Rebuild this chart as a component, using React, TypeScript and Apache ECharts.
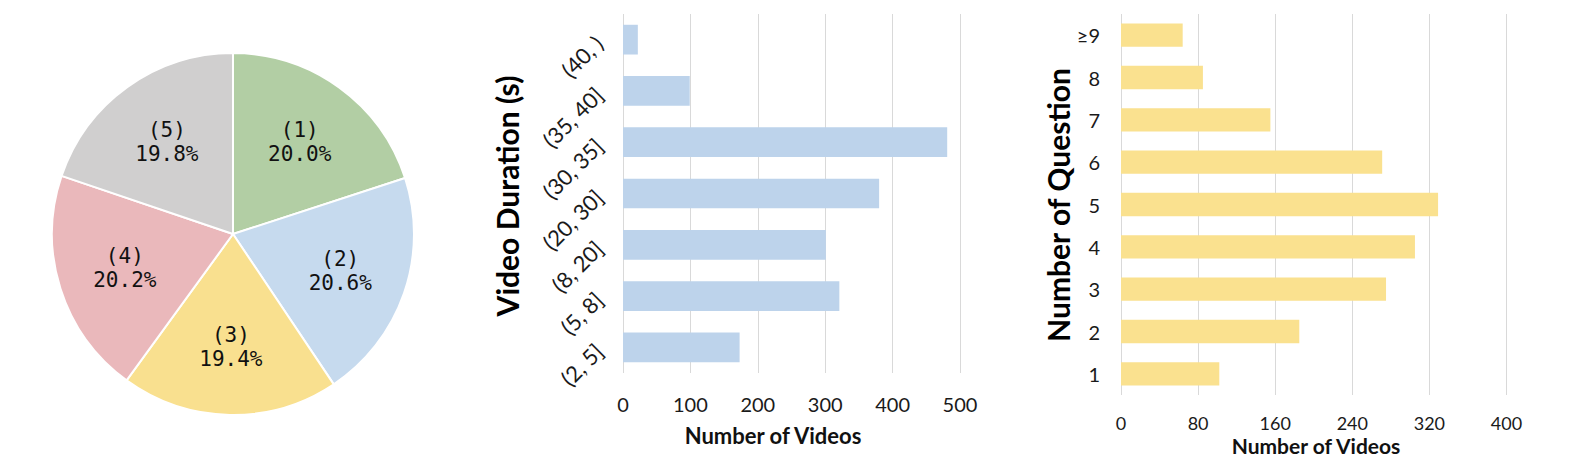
import React, { useEffect, useRef } from "react";
import * as echarts from "echarts";

const pieLabels = ["(1)", "(2)", "(3)", "(4)", "(5)"];
const pieValues = [20.0, 20.6, 19.4, 20.2, 19.8];
const pieColors = ["#b2cea4", "#c6daee", "#f9e08f", "#eab8bb", "#d0cfcf"];

const durationCats = ["(2, 5]", "(5, 8]", "(8, 20]", "(20, 30]", "(30, 35]", "(35, 40]", "(40, )"];
const durationVals = [173, 321, 301, 380, 481, 99, 22];
const durationTicks = [0, 100, 200, 300, 400, 500];

const questionCats = ["1", "2", "3", "4", "5", "6", "7", "8", "≥9"];
const questionVals = [102, 185, 275, 305, 329, 271, 155, 85, 64];
const questionTicks = [0, 80, 160, 240, 320, 400];

const FONT = "Lato";

export default function App() {
  const ref = useRef<HTMLDivElement>(null);
  useEffect(() => {
    document.body.style.margin = "0";
    const chart = echarts.init(ref.current!, undefined, { renderer: "svg" });
    const pieData = pieValues.map((v, i) => ({
      name: pieLabels[i],
      value: v,
      itemStyle: { color: pieColors[i] },
    }));
    chart.setOption({
      animation: false,
      backgroundColor: "#ffffff",
      grid: [
        { left: 623, top: 14, width: 337, height: 359 },
        { left: 1121, top: 14, width: 385.5, height: 381 },
      ],
      xAxis: [
        {
          gridIndex: 0,
          type: "value",
          min: durationTicks[0],
          max: durationTicks[durationTicks.length - 1],
          interval: 100,
          axisLine: { show: false },
          axisTick: { show: false },
          splitLine: { show: true, lineStyle: { color: "#d9d9d9", width: 1 } },
          axisLabel: { fontFamily: FONT, fontSize: 20, color: "#1a1a1a", margin: 21 },
        },
        {
          gridIndex: 1,
          type: "value",
          min: questionTicks[0],
          max: questionTicks[questionTicks.length - 1],
          interval: 80,
          axisLine: { show: false },
          axisTick: { show: false },
          splitLine: { show: true, lineStyle: { color: "#d9d9d9", width: 1 } },
          axisLabel: { fontFamily: FONT, fontSize: 18, color: "#1a1a1a", margin: 19 },
        },
      ],
      yAxis: [
        {
          gridIndex: 0,
          type: "category",
          data: durationCats,
          axisLine: { show: false },
          axisTick: { show: false },
          axisLabel: { fontFamily: FONT, fontSize: 22, color: "#1a1a1a", rotate: 45, margin: 24 },
        },
        {
          gridIndex: 1,
          type: "category",
          data: questionCats,
          axisLine: { show: false },
          axisTick: { show: false },
          axisLabel: { fontFamily: FONT, fontSize: 20, color: "#1a1a1a", margin: 21 },
        },
      ],
      series: [
        {
          type: "pie",
          center: [233, 234],
          radius: [0, 181],
          startAngle: 90,
          clockwise: true,
          itemStyle: { borderColor: "#ffffff", borderWidth: 2 },
          label: { show: false },
          labelLine: { show: false },
          emphasis: { disabled: true },
          data: pieData,
        },
        {
          type: "pie",
          center: [233, 234],
          radius: [40, 181],
          startAngle: 90,
          clockwise: true,
          silent: true,
          itemStyle: { color: "rgba(0,0,0,0)", borderWidth: 0 },
          label: {
            show: true,
            position: "inside",
            fontFamily: "DejaVu Sans Mono",
            fontSize: 21,
            lineHeight: 24,
            color: "#111111",
            formatter: (p: any) => `${p.name}\n${p.value.toFixed(1)}%`,
          },
          labelLine: { show: false },
          emphasis: { disabled: true },
          data: pieValues.map((v, i) => ({ name: pieLabels[i], value: v, itemStyle: { color: "rgba(0,0,0,0)" } })),
        },
        {
          type: "bar",
          xAxisIndex: 0,
          yAxisIndex: 0,
          data: durationVals,
          barWidth: "58%",
          itemStyle: { color: "#bdd3eb" },
        },
        {
          type: "bar",
          xAxisIndex: 1,
          yAxisIndex: 1,
          data: questionVals,
          barWidth: "55%",
          itemStyle: { color: "#fae18f" },
        },
      ],
      graphic: [
        {
          type: "text",
          x: 507,
          y: 196,
          rotation: Math.PI / 2,
          style: {
            text: "Video Duration (s)",
            fontFamily: FONT,
            fontWeight: "bold",
            fontSize: 30,
            fill: "#000000",
            textAlign: "center",
            textVerticalAlign: "middle",
          },
        },
        {
          type: "text",
          x: 1058,
          y: 205,
          rotation: Math.PI / 2,
          style: {
            text: "Number of Question",
            fontFamily: FONT,
            fontWeight: "bold",
            fontSize: 30,
            fill: "#000000",
            textAlign: "center",
            textVerticalAlign: "middle",
          },
        },
        {
          type: "text",
          x: 773,
          y: 435,
          style: {
            text: "Number of Videos",
            fontFamily: FONT,
            fontWeight: "bold",
            fontSize: 22,
            fill: "#111111",
            textAlign: "center",
            textVerticalAlign: "middle",
          },
        },
        {
          type: "text",
          x: 1316,
          y: 445,
          style: {
            text: "Number of Videos",
            fontFamily: FONT,
            fontWeight: "bold",
            fontSize: 21,
            fill: "#111111",
            textAlign: "center",
            textVerticalAlign: "middle",
          },
        },
      ],
    });
    return () => chart.dispose();
  }, []);
  return <div ref={ref} style={{ width: 1578, height: 469 }} />;
}
